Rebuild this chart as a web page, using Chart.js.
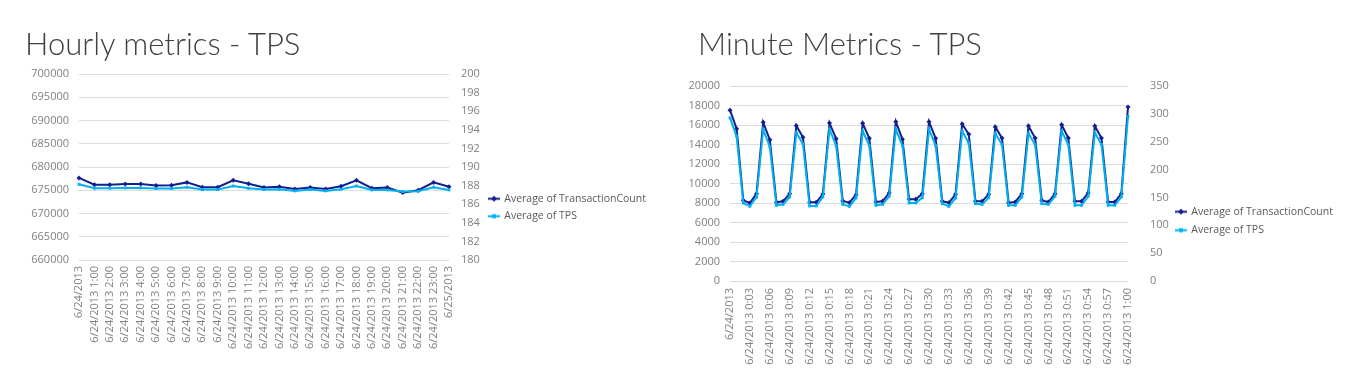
<!DOCTYPE html>
<html>
<head>
<meta charset="utf-8">
<script src="https://cdn.jsdelivr.net/npm/chart.js@4.4.0/dist/chart.umd.min.js"></script>
<style>
  body { margin: 0; background: #fff; width: 1360px; height: 385px; overflow: hidden; position: relative; }
  .box { position: absolute; top: 0; width: 680px; height: 385px; }
  .title { position: absolute; top: 28px; font-family: Lato, 'Open Sans', sans-serif; font-weight: 300;
           font-size: 31px; line-height: 1; color: #404040; white-space: nowrap; }
</style>
</head>
<body>
<div class="box" style="left:0"><canvas id="hourly" width="680" height="385"></canvas></div>
<div class="box" style="left:680px"><canvas id="minute" width="680" height="385"></canvas></div>
<div class="title" style="left:25px">Hourly metrics - TPS</div>
<div class="title" style="left:698px">Minute Metrics - TPS</div>
<script>
// hourly chart
const hourLabels = [
  '6/24/2013', '6/24/2013 1:00', '6/24/2013 2:00', '6/24/2013 3:00', '6/24/2013 4:00',
  '6/24/2013 5:00', '6/24/2013 6:00', '6/24/2013 7:00', '6/24/2013 8:00', '6/24/2013 9:00',
  '6/24/2013 10:00', '6/24/2013 11:00', '6/24/2013 12:00', '6/24/2013 13:00', '6/24/2013 14:00',
  '6/24/2013 15:00', '6/24/2013 16:00', '6/24/2013 17:00', '6/24/2013 18:00', '6/24/2013 19:00',
  '6/24/2013 20:00', '6/24/2013 21:00', '6/24/2013 22:00', '6/24/2013 23:00', '6/25/2013'
];
const hourTransactionCount = [
  677650, 676180, 676180, 676320, 676320, 676030, 676100, 676690, 675660, 675660,
  677130, 676400, 675590, 675740, 675290, 675590, 675290, 675880, 677130, 675440,
  675590, 674490, 675000, 676690, 675740
];
const hourTps = [
  188.14, 187.71, 187.71, 187.75, 187.75, 187.68, 187.68, 187.82, 187.57, 187.57,
  187.96, 187.71, 187.57, 187.61, 187.43, 187.57, 187.43, 187.61, 187.96, 187.53,
  187.53, 187.36, 187.39, 187.82, 187.53
];

// minute chart (labels shown every 3rd minute)
const minuteLabels = [
  '6/24/2013', '6/24/2013 0:01', '6/24/2013 0:02', '6/24/2013 0:03', '6/24/2013 0:04',
  '6/24/2013 0:05', '6/24/2013 0:06', '6/24/2013 0:07', '6/24/2013 0:08', '6/24/2013 0:09',
  '6/24/2013 0:10', '6/24/2013 0:11', '6/24/2013 0:12', '6/24/2013 0:13', '6/24/2013 0:14',
  '6/24/2013 0:15', '6/24/2013 0:16', '6/24/2013 0:17', '6/24/2013 0:18', '6/24/2013 0:19',
  '6/24/2013 0:20', '6/24/2013 0:21', '6/24/2013 0:22', '6/24/2013 0:23', '6/24/2013 0:24',
  '6/24/2013 0:25', '6/24/2013 0:26', '6/24/2013 0:27', '6/24/2013 0:28', '6/24/2013 0:29',
  '6/24/2013 0:30', '6/24/2013 0:31', '6/24/2013 0:32', '6/24/2013 0:33', '6/24/2013 0:34',
  '6/24/2013 0:35', '6/24/2013 0:36', '6/24/2013 0:37', '6/24/2013 0:38', '6/24/2013 0:39',
  '6/24/2013 0:40', '6/24/2013 0:41', '6/24/2013 0:42', '6/24/2013 0:43', '6/24/2013 0:44',
  '6/24/2013 0:45', '6/24/2013 0:46', '6/24/2013 0:47', '6/24/2013 0:48', '6/24/2013 0:49',
  '6/24/2013 0:50', '6/24/2013 0:51', '6/24/2013 0:52', '6/24/2013 0:53', '6/24/2013 0:54',
  '6/24/2013 0:55', '6/24/2013 0:56', '6/24/2013 0:57', '6/24/2013 0:58', '6/24/2013 0:59',
  '6/24/2013 1:00'
];
const minuteTransactionCount = [
  17520, 15620, 8270, 8000, 8960, 16270, 14500, 8070, 8170, 8960,
  15930, 14740, 8070, 8070, 8920, 16200, 14600, 8200, 8030, 8850,
  16170, 14630, 8100, 8170, 9030, 16340, 14530, 8380, 8380, 8960,
  16340, 14630, 8170, 8030, 8890, 16100, 15040, 8170, 8170, 8890,
  15800, 14670, 8030, 8100, 8960, 15900, 14670, 8270, 8100, 8960,
  16030, 14670, 8170, 8170, 9030, 15900, 14670, 8100, 8100, 8960,
  17840
];
const minuteTps = [
  292.9, 259.7, 140.0, 134.0, 150.8, 272.0, 241.0, 135.8, 137.6, 150.8,
  266.0, 246.0, 134.6, 134.6, 150.8, 272.0, 243.0, 137.6, 134.0, 149.0,
  269.0, 243.0, 135.8, 137.6, 152.0, 272.0, 243.0, 140.0, 140.0, 149.6,
  272.0, 243.0, 138.8, 134.0, 149.0, 268.6, 247.6, 138.8, 137.6, 149.6,
  264.8, 245.0, 135.8, 135.8, 150.8, 264.8, 245.0, 138.8, 137.6, 152.0,
  268.6, 245.0, 135.8, 135.8, 152.0, 266.0, 245.0, 135.8, 135.8, 150.8,
  295.7
];

const DARK = '#12208e';
const CYAN = '#00b0f0';
const GRID = '#dcdcdc';

Chart.defaults.font.family = "'Open Sans', sans-serif";
Chart.defaults.font.size = 11;
Chart.defaults.color = '#808080';

// little line + marker used as legend symbol
function legendMarker(color, diamond) {
  const c = document.createElement('canvas');
  c.width = 12; c.height = 7;
  const g = c.getContext('2d');
  g.strokeStyle = color; g.lineWidth = 2;
  g.beginPath(); g.moveTo(0, 3.5); g.lineTo(12, 3.5); g.stroke();
  g.fillStyle = color;
  if (diamond) {
    g.beginPath(); g.moveTo(6, 0.5); g.lineTo(9, 3.5); g.lineTo(6, 6.5); g.lineTo(3, 3.5); g.closePath(); g.fill();
  } else {
    g.fillRect(4, 1.5, 4, 4);
  }
  return c;
}

// moves the legend box to a fixed spot after layout (and widens its clip box)
const legendSpot = {
  id: 'legendSpot',
  afterLayout(chart, args, opts) {
    const lg = chart.legend;
    lg.left = opts.left; lg.width = 200; lg.right = opts.left + 200;
    lg.top = opts.top; lg.bottom = opts.top + lg.height;
  }
};

function makeChart(id, cfg) {
  return new Chart(document.getElementById(id), {
    type: 'line',
    plugins: [legendSpot],
    data: {
      labels: cfg.labels,
      datasets: [
        {
          label: 'Average of TransactionCount', data: cfg.count, yAxisID: 'y', order: 1,
          borderColor: DARK, backgroundColor: DARK, borderWidth: 2,
          pointStyle: 'rectRot', pointRadius: 2.5, pointBorderWidth: 0, tension: 0
        },
        {
          label: 'Average of TPS', data: cfg.tps, yAxisID: 'y1', order: 0,
          borderColor: CYAN, backgroundColor: CYAN, borderWidth: 2,
          pointStyle: 'rect', pointRadius: 2, pointBorderWidth: 0, tension: 0
        }
      ]
    },
    options: {
      responsive: false,
      animation: false,
      layout: { padding: { top: cfg.top, bottom: 0, left: 0, right: 0 } },
      plugins: {
        tooltip: { enabled: false },
        legendSpot: { left: cfg.legendX - cfg.legendGap, top: cfg.legendY - cfg.legendGap - 5.5 },
        legend: {
          position: 'right',
          align: 'start',
          labels: {
            color: '#595959',
            font: { size: 10.5 },
            padding: cfg.legendGap,
            usePointStyle: true,
            pointStyleWidth: 10,
            sort: (a, b) => a.datasetIndex - b.datasetIndex,
            generateLabels: chart => chart.data.datasets.map((ds, i) => ({
              text: ds.label,
              datasetIndex: i,
              fontColor: '#595959',
              pointStyle: legendMarker(ds.borderColor, i === 0),
              lineWidth: 0,
              hidden: false
            }))
          }
        }
      },
      scales: {
        x: {
          grid: { display: false, drawTicks: false },
          border: { display: false },
          ticks: {
            autoSkip: false, minRotation: 90, maxRotation: 90, padding: cfg.xPad,
            callback: function(v, i) { return i % cfg.every === 0 ? this.getLabelForValue(v) : ''; }
          },
          afterFit: s => { s.height = 385 - cfg.areaBottom; }
        },
        y: {
          position: 'left', min: cfg.yMin, max: cfg.yMax,
          ticks: { stepSize: cfg.yStep, padding: 10, callback: v => String(v) },
          grid: { color: GRID, drawTicks: false },
          border: { display: false },
          afterFit: s => { s.width = cfg.areaLeft; }
        },
        y1: {
          position: 'right', min: cfg.y1Min, max: cfg.y1Max,
          ticks: { stepSize: cfg.y1Step, padding: cfg.y1Pad, callback: v => String(v) },
          grid: { display: false, drawTicks: false },
          border: { display: false },
          afterFit: s => { s.width = 680 - cfg.areaRight - s.chart.legend.width; }
        }
      }
    }
  });
}

makeChart('hourly', {
  labels: hourLabels, count: hourTransactionCount, tps: hourTps,
  yMin: 660000, yMax: 700000, yStep: 5000,
  y1Min: 180, y1Max: 200, y1Step: 2, y1Pad: 12,
  top: 74, areaLeft: 79, areaRight: 449, areaBottom: 260,
  legendX: 489, legendY: 199, legendGap: 7, xPad: 6, every: 1
});

makeChart('minute', {
  labels: minuteLabels, count: minuteTransactionCount, tps: minuteTps,
  yMin: 0, yMax: 20000, yStep: 2000,
  y1Min: 0, y1Max: 350, y1Step: 50, y1Pad: 22,
  top: 86, areaLeft: 50, areaRight: 448, areaBottom: 281,
  legendX: 496, legendY: 212, legendGap: 8, xPad: 7, every: 3
});
</script>
</body>
</html>
